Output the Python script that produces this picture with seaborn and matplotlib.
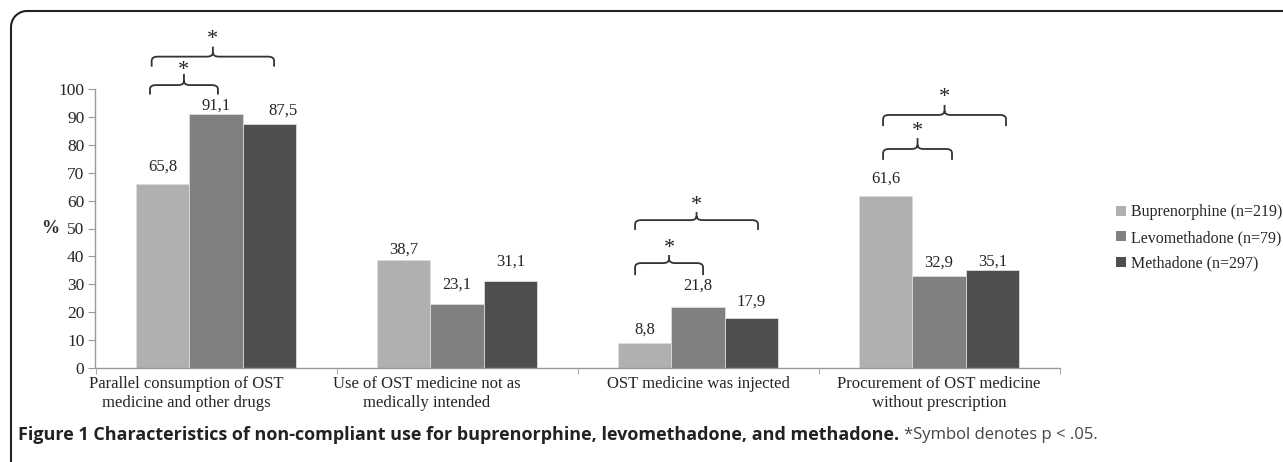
import numpy as np
import pandas as pd
import matplotlib
matplotlib.use('Agg')
import matplotlib.pyplot as plt
import matplotlib.transforms as mtransforms
import seaborn as sns
from matplotlib.path import Path
from matplotlib.patches import PathPatch, Patch
from matplotlib.lines import Line2D

# data
categories = ['Parallel consumption of OST\nmedicine and other drugs',
              'Use of OST medicine not as\nmedically intended',
              'OST medicine was injected',
              'Procurement of OST medicine\nwithout prescription']
drugs = ['Buprenorphine (n=219)', 'Levomethadone (n=79)', 'Methadone (n=297)']
buprenorphine = [65.8, 38.7, 8.8, 61.6]
levomethadone = [91.1, 23.1, 21.8, 32.9]
methadone = [87.5, 31.1, 17.9, 35.1]

colors = ['#b0b0b0', '#808080', '#4e4e4e']

rows = []
for drug, vals in zip(drugs, [buprenorphine, levomethadone, methadone]):
    for cat, v in zip(categories, vals):
        rows.append({'category': cat, 'drug': drug, 'value': v})
df = pd.DataFrame(rows)

sns.set_style('white')
plt.rcParams['font.family'] = ['Liberation Serif', 'DejaVu Serif']

W, H = 1283, 462
fig = plt.figure(figsize=(W / 100, H / 100), dpi=100)
ax = fig.add_axes([95.5 / W, 1 - 368 / H, (1059.5 - 95.5) / W, (368 - 89) / H])

sns.barplot(data=df, x='category', y='value', hue='drug', palette=colors,
            width=0.666, gap=0, edgecolor='#dcdcdc', linewidth=0.6,
            legend=False, ax=ax)

ax.set_ylim(0, 100)
ax.set_xlim(-0.5, 3.5)
ax.set_yticks(range(0, 101, 10))
ax.tick_params(axis='y', direction='out', length=5, color='#999999',
               labelsize=12.5, pad=3, left=True)
ax.set_xticks(range(4))
ax.set_xticklabels(categories, fontsize=12, linespacing=1.25)
ax.set_xticks([-0.5, 0.5, 1.5, 2.5, 3.5], minor=True)
ax.tick_params(axis='x', which='major', length=0, pad=6)
ax.tick_params(axis='x', which='minor', direction='out', length=4, color='#999999', bottom=True)
# first two category labels sit a little to the left in the original
for lbl, dx in zip(ax.get_xticklabels(), [-30, -30, 0, 0]):
    lbl.set_transform(lbl.get_transform() + mtransforms.Affine2D().translate(dx, 0))
for s in ['top', 'right']:
    ax.spines[s].set_visible(False)
for s in ['left', 'bottom']:
    ax.spines[s].set_color('#999999')
    ax.spines[s].set_linewidth(1)
ax.set_xlabel('')
ax.set_ylabel('%', rotation=0, fontsize=13, fontweight='bold', va='center')
ax.yaxis.set_label_coords(-0.047, 0.5)

# value labels (padding in points, per bar, as placed in the original)
pads = [[7, 2, 4, 7], [0, 8, 10, 4], [4, 8, 6, 0]]
shifts = [[0, 0, 0, 0], [0, 0, 0, 0], [10, 0, 0, 0]]
for container, pad_row, sh_row in zip(ax.containers, pads, shifts):
    for bar, v, p, sh in zip(container, container.datavalues, pad_row, sh_row):
        ax.annotate(str(v).replace('.', ','), (bar.get_x() + bar.get_width() / 2, v),
                    xytext=(sh, p), textcoords='offset points',
                    ha='center', va='bottom', fontsize=12)

# significance brackets: x0, x1, bottom, horizontal, peak, star
brackets = [
    (-0.274, 0.008, 98.0, 101.4, 105.4, 108.6),
    (-0.267, 0.241, 108.0, 111.6, 115.2, 119.4),
    (1.739, 2.021, 33.3, 37.6, 40.5, 44.8),
    (1.739, 2.249, 49.5, 53.0, 55.9, 60.2),
    (2.768, 3.054, 74.6, 78.5, 82.4, 86.4),
    (2.768, 3.278, 86.7, 90.7, 94.3, 98.9),
]
rx, ry = 0.025, 1.5
for x0, x1, yb, yh, yp, ys in brackets:
    xm = (x0 + x1) / 2
    verts = [(x0, yb), (x0, yh - ry), (x0, yh), (x0 + rx, yh),
             (xm - rx, yh), (xm, yh), (xm, yh + ry), (xm, yp),
             (xm, yh + ry), (xm, yh), (xm + rx, yh),
             (x1 - rx, yh), (x1, yh), (x1, yh - ry), (x1, yb)]
    codes = [Path.MOVETO, Path.LINETO, Path.CURVE3, Path.CURVE3,
             Path.LINETO, Path.CURVE3, Path.CURVE3, Path.LINETO,
             Path.MOVETO, Path.CURVE3, Path.CURVE3,
             Path.LINETO, Path.CURVE3, Path.CURVE3, Path.LINETO]
    ax.add_patch(PathPatch(Path(verts, codes), fill=False, lw=1.3,
                           edgecolor='#333333', clip_on=False))
    ax.text(xm, ys - 1.8, '*', ha='center', va='center', fontsize=16, clip_on=False)

# legend
handles = [Patch(facecolor=c, edgecolor='none') for c in colors]
fig.legend(handles, drugs, loc='center left', bbox_to_anchor=(1110 / W, 1 - 238 / H),
           frameon=False, fontsize=11.5, handlelength=0.6, handleheight=0.6,
           handletextpad=0.3, labelspacing=0.6, borderaxespad=0)

# frame with rounded top-left corner
r = 16
t = np.linspace(0, np.pi / 2, 20)
px = np.concatenate([[11], 11 + r - r * np.cos(t), [W + 5]])
py = np.concatenate([[H + 5], 11 + r - r * np.sin(t), [11]])
fig.add_artist(Line2D(px / W, 1 - py / H, color='#222222', lw=1.5, transform=fig.transFigure))

# caption
cap1 = fig.text(18 / W, 1 - 435 / H,
                'Figure 1 Characteristics of non-compliant use for buprenorphine, levomethadone, and methadone.',
                family=['Open Sans', 'DejaVu Sans'], fontweight='bold', fontsize=13,
                va='center', ha='left', color='#222222')
fig.canvas.draw()
bb = cap1.get_window_extent()
fig.text((bb.x1 + 5) / W, 1 - 435 / H, '*Symbol denotes p < .05.',
         family=['Open Sans', 'DejaVu Sans'], fontsize=12, va='center', ha='left',
         color='#444444')

fig.savefig('out.png', dpi=100)
